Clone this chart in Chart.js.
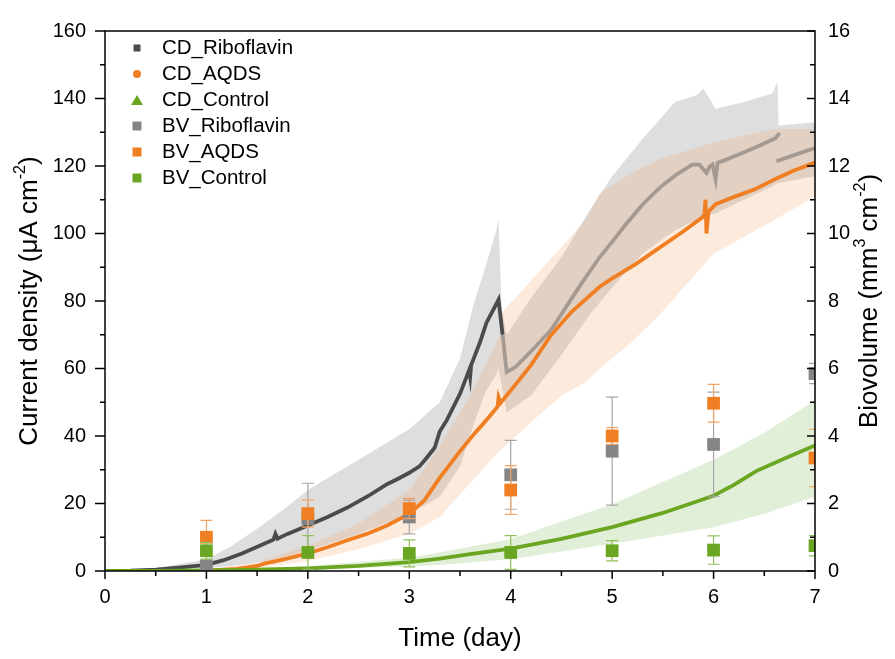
<!DOCTYPE html>
<html>
<head>
<meta charset="utf-8">
<script src="https://cdn.jsdelivr.net/npm/chart.js@4/dist/chart.umd.min.js"></script>
<style>
  html, body { margin: 0; padding: 0; background: #fff; }
  #wrap { width: 895px; height: 659px; position: relative; }
</style>
</head>
<body>
<div id="wrap"><canvas id="chart"></canvas></div>
<script>
// ---- data ----
const xTicks = [0, 1, 2, 3, 4, 5, 6, 7];

// current density (left axis, uA cm-2)
const cdRiboDays = [0, 0.25, 0.5, 0.75, 1.0, 1.17, 1.35, 1.57, 1.66, 1.68, 1.7, 1.8, 2.0, 2.2, 2.39, 2.6, 2.78, 2.9, 3.0, 3.1, 3.17, 3.25, 3.3, 3.37, 3.5, 3.59, 3.6, 3.61, 3.7, 3.76, 3.83, 3.88, 3.92, 3.96, 4.05, 4.22, 4.4, 4.55, 4.7, 4.88, 5.0, 5.14, 5.3, 5.47, 5.63, 5.79, 5.86, 5.93, 5.96, 5.99, 6.02, 6.04, 6.1, 6.32, 6.45, 6.61, 6.65, 6.655, 6.62, 6.8, 7.0];
const cdRiboVals = [0, 0.1, 0.4, 1.1, 1.8, 3.2, 5.2, 8.1, 9.3, 11, 9.6, 11.0, 13.5, 16.1, 18.8, 22.3, 25.7, 27.5, 29.1, 31.0, 33.5, 36.5, 41.3, 44.7, 52.5, 59.5, 57.5, 61, 68, 73.5, 77.5, 80.4, 70, 58.9, 60.5, 65.7, 71.5, 78.4, 85.3, 93.1, 97.5, 102.9, 108.6, 113.6, 117.4, 120.4, 120.4, 118, 119.8, 120.4, 116, 121, 121.6, 124.3, 126, 128.2, 129.8, null, 121.4, 123.3, 125.3];

const cdAqdsDays = [0, 0.5, 1.0, 1.3, 1.5, 1.57, 1.75, 2.0, 2.2, 2.39, 2.6, 2.78, 3.0, 3.15, 3.3, 3.5, 3.65, 3.76, 3.87, 3.88, 3.9, 4.0, 4.2, 4.39, 4.6, 4.88, 5.0, 5.24, 5.5, 5.7, 5.89, 5.91, 5.92, 5.93, 5.95, 6.02, 6.19, 6.4, 6.6, 6.78, 7.0];
const cdAqdsVals = [0, 0, 0.1, 0.6, 1.5, 2.2, 3.4, 5.2, 7.1, 9.1, 11.2, 13.5, 16.9, 21, 27.6, 35.5, 41, 44.7, 48.7, 51.5, 49.8, 53.5, 61, 69.6, 76.8, 84.3, 86.7, 91.1, 96.5, 100.6, 104.8, 105.5, 110, 100, 106.5, 108.7, 110.7, 113, 116, 118.5, 121];

const cdCtrlDays = [0, 0.5, 1.0, 1.5, 2.0, 2.5, 3.0, 3.3, 3.6, 4.0, 4.5, 5.0, 5.5, 6.0, 6.2, 6.42, 6.7, 7.0];
const cdCtrlVals = [0, 0, 0.2, 0.4, 0.8, 1.5, 2.6, 3.7, 5.0, 6.6, 9.5, 13, 17.2, 22.3, 25.5, 29.6, 33.3, 37.2];

// spread bands around the current density curves
const riboBandDays = [0, 0.5, 1.0, 1.25, 1.5, 1.75, 2.0, 2.5, 3.0, 3.3, 3.5, 3.63, 3.75, 3.85, 3.88, 3.91, 3.96, 4.2, 4.5, 4.78, 5.0, 5.3, 5.62, 5.83, 5.9, 6.02, 6.3, 6.58, 6.63, 6.64, 7.0];
const riboBandLow  = [0, 0.2, 0.8, 1.5, 2.5, 4, 6, 11, 17, 22, 31, 43, 53, 58, 60, 55, 47, 52, 64, 76, 84, 94, 101, 104, 105, 106, 110, 114, 115, 115, 117];
const riboBandHigh = [0, 0.8, 3.5, 7.5, 12.5, 18, 24, 33, 42, 50, 63, 78.5, 90, 100, 104, 77.5, 70, 81, 93, 107, 117, 128, 139, 141, 143, 137, 139, 141.5, 145, 132, 133];

const aqdsBandDays = [0, 1.0, 1.5, 2.0, 2.5, 3.0, 3.3, 3.6, 3.9, 3.91, 4.2, 4.5, 4.74, 4.88, 5.2, 5.47, 6.0, 6.6, 7.0];
const aqdsBandLow  = [0, 0, 0.8, 3, 6.5, 11, 16, 26, 36, 36, 44, 52, 56, 60, 68, 76, 94, 104, 111];
const aqdsBandHigh = [0, 0.3, 2.5, 7.5, 14, 24, 37, 52, 70, 76.5, 86, 96, 104, 112, 118, 122, 127, 131, 131];

const ctrlBandDays = [0, 1, 2, 3, 3.3, 4, 5, 6, 6.5, 7];
const ctrlBandLow  = [0, 0.1, 0.4, 1.4, 1.8, 3.5, 8.1, 13, 17, 22];
const ctrlBandHigh = [0, 0.4, 1.4, 4.0, 5.5, 9.5, 19.8, 33, 41, 50.5];

// biovolume (right axis, mm3 cm-2)
const bvDays = [1, 2, 3, 4, 5, 6, 7];
const bvRiboVals = [0.15, 1.55, 1.6, 2.85, 3.55, 3.75, 5.85];
const bvRiboErr  = [0.1, 1.05, 0.5, 1.02, 1.6, 1.55, 0.3];
const bvAqdsVals = [1.0, 1.7, 1.85, 2.4, 4.0, 4.97, 3.35];
const bvAqdsErr  = [0.5, 0.4, 0.3, 0.72, 0.25, 0.56, 0.85];
const bvCtrlVals = [0.6, 0.55, 0.52, 0.55, 0.6, 0.62, 0.75];
const bvCtrlErr  = [0.25, 0.5, 0.4, 0.5, 0.3, 0.42, 0.3];

// ---- styling ----
const FONT = "'Liberation Sans', Arial, Helvetica, sans-serif";
const riboColor = "#4b4b4b";
const riboLateColor = "#a59a92";
const aqdsColor = "#ef7f22";
const ctrlColor = "#6aa622";
const bvRiboColor = "#858585";

function pts(days, vals) {
  return days.map((d, i) => ({ x: d, y: vals[i] }));
}

function cdLine(label, days, vals, color, legendStyle, legendSize, order) {
  return {
    label,
    data: pts(days, vals),
    yAxisID: "y",
    borderColor: color,
    borderWidth: 3.8,
    pointRadius: 0,
    tension: 0,
    fill: false,
    spanGaps: false,
    clip: 0,
    order,
    legendStyle,
    legendSize,
    legendColor: color,
  };
}

function bvPoints(label, vals, errs, color, errColor, order) {
  return {
    label,
    data: pts(bvDays, vals),
    yAxisID: "y2",
    showLine: false,
    pointStyle: "rect",
    pointRadius: 9,
    pointBackgroundColor: color,
    pointBorderWidth: 0,
    clip: 0,
    order,
    errors: errs,
    errorColor: errColor,
    legendStyle: "rect",
    legendSize: 9,
    legendColor: color,
  };
}

function band(days, low, high, color, order) {
  return [
    { data: pts(days, low), yAxisID: "y", borderWidth: 0, pointRadius: 0, fill: false, tension: 0, order, clip: 0 },
    { data: pts(days, high), yAxisID: "y", borderWidth: 0, pointRadius: 0, fill: "-1", backgroundColor: color, tension: 0, order, clip: 0 },
  ];
}

const riboLine = cdLine("CD_Riboflavin", cdRiboDays, cdRiboVals, riboColor, "rect", 7, 5);
riboLine.segment = {
  borderColor: ctx => (ctx.p0.parsed.x >= 3.9 ? riboLateColor : riboColor),
};

const datasets = [
  riboLine,
  cdLine("CD_AQDS", cdAqdsDays, cdAqdsVals, aqdsColor, "circle", 8, 4),
  cdLine("CD_Control", cdCtrlDays, cdCtrlVals, ctrlColor, "triangle", 10, 3),
  bvPoints("BV_Riboflavin", bvRiboVals, bvRiboErr, bvRiboColor, "#a6a6a6", 2),
  bvPoints("BV_AQDS", bvAqdsVals, bvAqdsErr, aqdsColor, "#f3a468", 1),
  bvPoints("BV_Control", bvCtrlVals, bvCtrlErr, ctrlColor, "#8fc05a", 0),
  ...band(riboBandDays, riboBandLow, riboBandHigh, "rgba(190,190,190,0.5)", 10),
  ...band(aqdsBandDays, aqdsBandLow, aqdsBandHigh, "rgba(242,150,80,0.2)", 9),
  ...band(ctrlBandDays, ctrlBandLow, ctrlBandHigh, "rgba(112,173,60,0.2)", 8),
];

// ---- plugins ----
function drawRich(ctx, parts, x, y, size, rotate) {
  ctx.save();
  ctx.translate(x, y);
  if (rotate) ctx.rotate(-Math.PI / 2);
  const widths = parts.map(p => {
    ctx.font = `${p.sup ? size * 0.62 : size}px ${FONT}`;
    return ctx.measureText(p.t).width;
  });
  let cx = -widths.reduce((a, b) => a + b, 0) / 2;
  ctx.fillStyle = "#000";
  ctx.textBaseline = "middle";
  ctx.textAlign = "left";
  parts.forEach((p, i) => {
    ctx.font = `${p.sup ? size * 0.62 : size}px ${FONT}`;
    ctx.fillText(p.t, cx, p.sup ? -size * 0.38 : 0);
    cx += widths[i];
  });
  ctx.restore();
}

const errorBars = {
  id: "errorBars",
  beforeDatasetDraw(chart, args) {
    const ds = chart.data.datasets[args.index];
    if (!ds.errors) return;
    const { ctx, chartArea: a } = chart;
    const xs = chart.scales.x;
    const ys = chart.scales[ds.yAxisID];
    ctx.save();
    ctx.beginPath();
    ctx.rect(a.left, a.top, a.right - a.left, a.bottom - a.top);
    ctx.clip();
    ctx.strokeStyle = ds.errorColor;
    ctx.lineWidth = 1.2;
    ds.data.forEach((p, i) => {
      const x = xs.getPixelForValue(p.x);
      const yTop = ys.getPixelForValue(p.y + ds.errors[i]);
      const yBot = ys.getPixelForValue(p.y - ds.errors[i]);
      ctx.beginPath();
      ctx.moveTo(x, yTop); ctx.lineTo(x, yBot);
      ctx.moveTo(x - 6, yTop); ctx.lineTo(x + 6, yTop);
      ctx.moveTo(x - 6, yBot); ctx.lineTo(x + 6, yBot);
      ctx.stroke();
    });
    ctx.restore();
  },
};

const frameAndLabels = {
  id: "frameAndLabels",
  afterDraw(chart) {
    const { ctx, chartArea: a, scales } = chart;
    ctx.save();
    ctx.strokeStyle = "#000";
    ctx.lineWidth = 1.5;
    ctx.strokeRect(a.left, a.top, a.right - a.left, a.bottom - a.top);

    const seg = (x1, y1, x2, y2) => {
      ctx.beginPath(); ctx.moveTo(x1, y1); ctx.lineTo(x2, y2); ctx.stroke();
    };
    // left axis: out ticks
    for (let v = 0; v <= 160; v += 10) {
      const y = scales.y.getPixelForValue(v);
      seg(a.left - (v % 20 === 0 ? 10 : 5), y, a.left, y);
    }
    // right axis: in ticks
    for (let v = 0; v <= 16; v += 1) {
      const y = scales.y2.getPixelForValue(v);
      seg(a.right - (v % 2 === 0 ? 8 : 5), y, a.right, y);
    }
    // bottom axis: out ticks
    for (let v = 0; v <= 7; v += 0.5) {
      const x = scales.x.getPixelForValue(v);
      seg(x, a.bottom, x, a.bottom + (Number.isInteger(v) ? 8 : 5));
    }

    // axis titles
    drawRich(ctx, [{ t: "Current density (μA cm" }, { t: "-2", sup: true }, { t: ")" }], 30, (a.top + a.bottom) / 2, 26, true);
    drawRich(ctx, [{ t: "Biovolume (mm" }, { t: "3", sup: true }, { t: " cm" }, { t: "-2", sup: true }, { t: ")" }], 870, (a.top + a.bottom) / 2, 26, true);
    drawRich(ctx, [{ t: "Time (day)" }], (a.left + a.right) / 2, 639, 26, false);

    // legend
    let row = 0;
    chart.data.datasets.forEach(ds => {
      if (!ds.legendStyle) return;
      const cy = a.top + 17 + row * 26;
      const cx = 137;
      const s = ds.legendSize;
      ctx.fillStyle = ds.legendColor;
      ctx.beginPath();
      if (ds.legendStyle === "rect") {
        ctx.rect(cx - s / 2, cy - s / 2, s, s);
      } else if (ds.legendStyle === "circle") {
        ctx.arc(cx, cy, s / 2, 0, Math.PI * 2);
      } else {
        ctx.moveTo(cx, cy - s / 2);
        ctx.lineTo(cx + s / 2 + 1, cy + s / 2);
        ctx.lineTo(cx - s / 2 - 1, cy + s / 2);
        ctx.closePath();
      }
      ctx.fill();
      ctx.fillStyle = "#000";
      ctx.font = `20.5px ${FONT}`;
      ctx.textAlign = "left";
      ctx.textBaseline = "middle";
      ctx.fillText(ds.label, 162, cy);
      row++;
    });
    ctx.restore();
  },
};

const tickFont = { family: FONT, size: 20 };

new Chart(document.getElementById("chart"), {
  type: "line",
  data: { datasets },
  options: {
    responsive: true,
    maintainAspectRatio: false,
    animation: false,
    events: [],
    layout: { padding: { top: 28, left: 0, right: 0, bottom: 0 } },
    plugins: {
      legend: { display: false },
      tooltip: { enabled: false },
      filler: { propagate: false },
    },
    scales: {
      x: {
        type: "linear",
        min: 0,
        max: 7,
        afterBuildTicks: s => { s.ticks = xTicks.map(v => ({ value: v })); },
        ticks: { font: tickFont, color: "#000", padding: 14, maxRotation: 0 },
        grid: { display: false, drawTicks: false },
        border: { display: false },
        afterFit: s => { s.height = 88; },
      },
      y: {
        position: "left",
        min: 0,
        max: 160,
        ticks: { stepSize: 20, font: tickFont, color: "#000", padding: 19 },
        grid: { display: false, drawTicks: false },
        border: { display: false },
        afterFit: s => { s.width = 105; },
      },
      y2: {
        position: "right",
        min: 0,
        max: 16,
        ticks: { stepSize: 2, font: tickFont, color: "#000", padding: 13 },
        grid: { display: false, drawTicks: false },
        border: { display: false },
        afterFit: s => { s.width = 80; },
      },
    },
  },
  plugins: [errorBars, frameAndLabels],
});
</script>
</body>
</html>
